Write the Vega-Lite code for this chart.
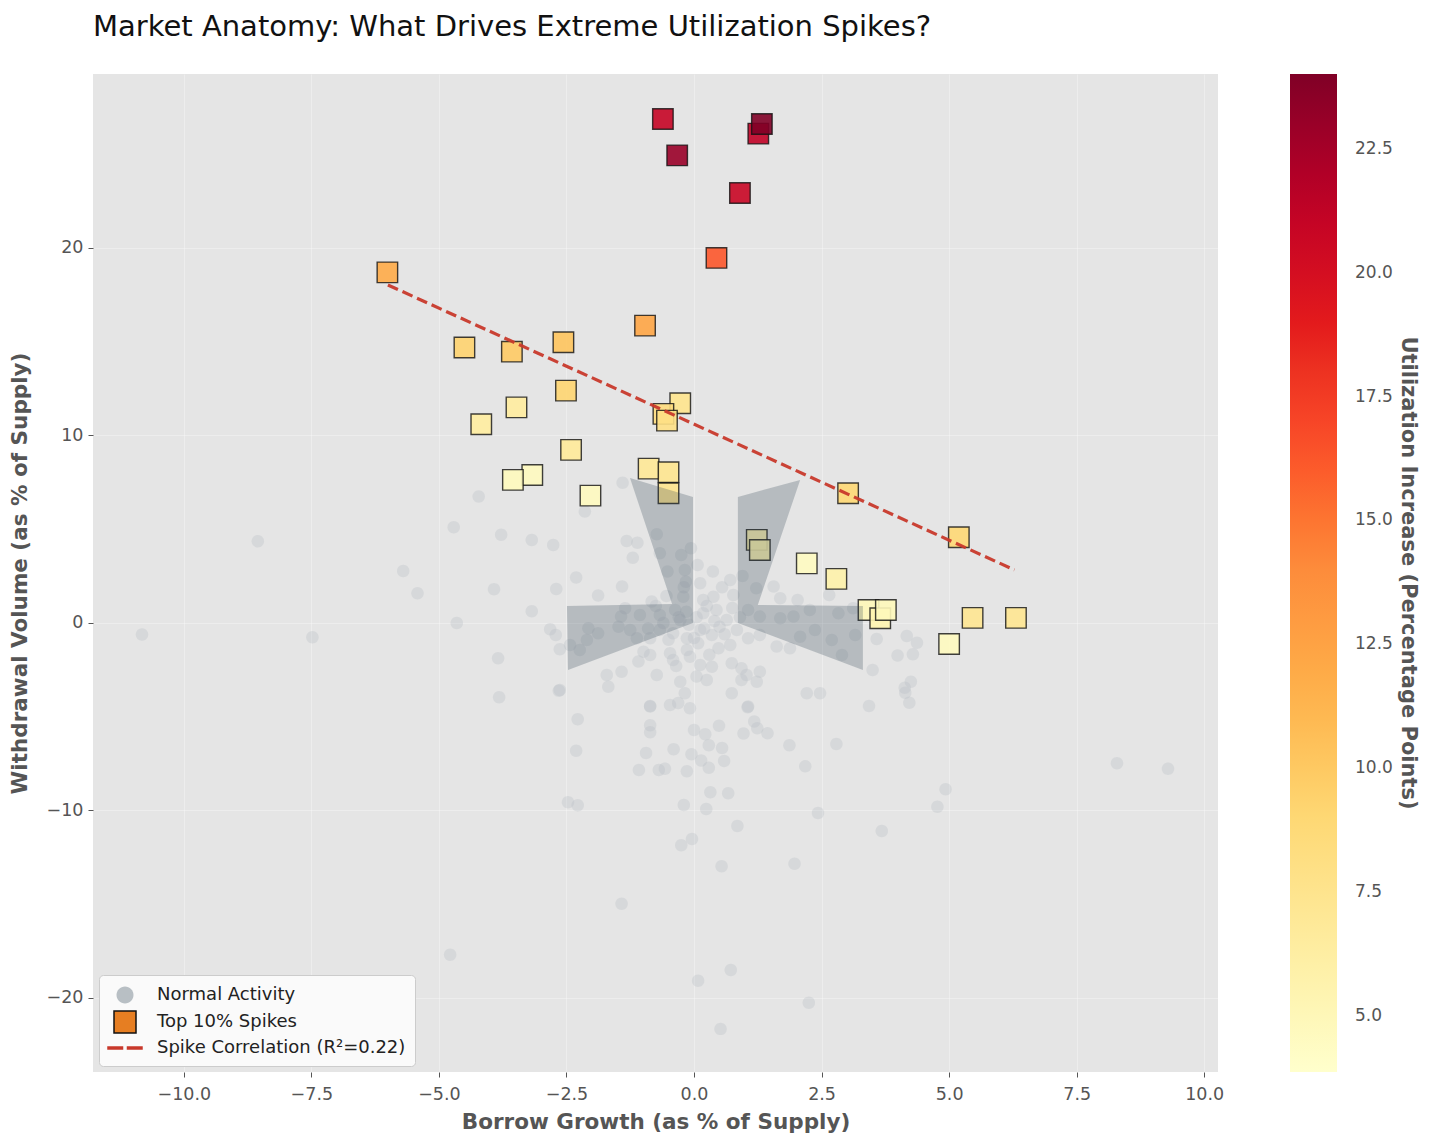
{
  "$schema": "https://vega.github.io/schema/vega-lite/v6.json",
  "autosize": {"type": "none"},
  "width": 1125,
  "height": 998,
  "padding": {"left": 93, "top": 74, "right": 214, "bottom": 72},
  "background": "white",
  "title": {"text": "Market Anatomy: What Drives Extreme Utilization Spikes?", "anchor": "start", "frame": "group", "fontSize": 29, "fontWeight": "normal", "font": "DejaVu Sans", "color": "#111", "offset": 32},
  "datasets": {
    "normal": [
      {"x": -4.22, "y": 6.74}, {"x": -4.71, "y": 5.10}, {"x": -3.78, "y": 4.71}, {"x": -3.18, "y": 4.43}, {"x": -2.76, "y": 4.16},
      {"x": -8.55, "y": 4.36}, {"x": -5.70, "y": 2.77}, {"x": -5.42, "y": 1.58}, {"x": -3.92, "y": 1.80}, {"x": -2.70, "y": 1.81},
      {"x": -3.18, "y": 0.62}, {"x": -4.65, "y": 0.0}, {"x": -10.82, "y": -0.62}, {"x": -7.48, "y": -0.76}, {"x": -2.82, "y": -0.34},
      {"x": -2.71, "y": -0.64}, {"x": -2.63, "y": -1.40}, {"x": -3.84, "y": -1.88}, {"x": -2.65, "y": -3.61}, {"x": -3.82, "y": -3.96},
      {"x": -2.47, "y": -9.56}, {"x": -2.28, "y": -9.72}, {"x": -1.42, "y": -14.97}, {"x": -4.78, "y": -17.7},
      {"x": -0.86, "y": -4.43}, {"x": -0.47, "y": -4.37}, {"x": -0.31, "y": -4.27}, {"x": -0.08, "y": -4.55}, {"x": 1.05, "y": -4.5},
      {"x": 3.43, "y": -4.43}, {"x": -2.28, "y": -5.14}, {"x": -0.86, "y": -5.46}, {"x": -0.86, "y": -5.83}, {"x": 0.0, "y": -5.71},
      {"x": 0.22, "y": -5.94}, {"x": 0.49, "y": -5.48}, {"x": 1.18, "y": -5.26}, {"x": 1.24, "y": -5.62}, {"x": 0.97, "y": -5.9},
      {"x": 1.44, "y": -5.88}, {"x": -2.31, "y": -6.81}, {"x": -0.94, "y": -6.93}, {"x": -0.40, "y": -6.74}, {"x": -0.05, "y": -7.0},
      {"x": 0.29, "y": -6.52}, {"x": 0.55, "y": -6.67}, {"x": 1.87, "y": -6.52}, {"x": 2.79, "y": -6.45}, {"x": 0.14, "y": -7.34},
      {"x": 0.59, "y": -7.36}, {"x": 0.29, "y": -7.72}, {"x": -1.08, "y": -7.84}, {"x": -0.69, "y": -7.84}, {"x": -0.57, "y": -7.77},
      {"x": -0.14, "y": -7.91}, {"x": 2.18, "y": -7.64}, {"x": 0.32, "y": -9.03}, {"x": 0.67, "y": -9.08}, {"x": -0.2, "y": -9.71},
      {"x": 0.24, "y": -9.92}, {"x": 2.43, "y": -10.13}, {"x": 0.85, "y": -10.83}, {"x": 3.68, "y": -11.1}, {"x": -0.04, "y": -11.52},
      {"x": -0.25, "y": -11.86}, {"x": 0.54, "y": -12.98}, {"x": 1.97, "y": -12.84}, {"x": 0.72, "y": -18.51}, {"x": 0.08, "y": -19.08},
      {"x": 2.25, "y": -20.25}, {"x": 0.52, "y": -21.65},
      {"x": 3.58, "y": -0.85}, {"x": 4.17, "y": -0.69}, {"x": 4.37, "y": -1.05}, {"x": 3.99, "y": -1.74}, {"x": 4.29, "y": -1.67},
      {"x": 3.50, "y": -2.51}, {"x": 4.25, "y": -3.13}, {"x": 4.13, "y": -3.45}, {"x": 4.14, "y": -3.72}, {"x": 4.22, "y": -4.25},
      {"x": 8.29, "y": -7.48}, {"x": 9.29, "y": -7.77}, {"x": 4.93, "y": -8.87}, {"x": 4.77, "y": -9.8},
      {"x": 2.21, "y": -3.75}, {"x": 2.47, "y": -3.75}, {"x": -1.4, "y": 7.48}, {"x": -2.14, "y": 5.94},
      {"x": -0.73, "y": 4.73}, {"x": -1.32, "y": 4.37}, {"x": -1.11, "y": 4.28}, {"x": -1.2, "y": 3.48}, {"x": -0.25, "y": 3.63},
      {"x": -0.06, "y": 3.98}, {"x": -0.67, "y": 3.72}, {"x": -2.31, "y": 2.42}, {"x": -1.41, "y": 1.94}, {"x": -1.88, "y": 1.46},
      {"x": -0.52, "y": 2.74}, {"x": -0.18, "y": 2.83}, {"x": -0.16, "y": 2.2}, {"x": 0.07, "y": 3.09}, {"x": 0.37, "y": 2.74},
      {"x": 0.12, "y": 2.12}, {"x": 0.71, "y": 2.29}, {"x": 0.95, "y": 2.51}, {"x": 1.22, "y": 1.85}, {"x": 1.56, "y": 1.94},
      {"x": 0.77, "y": 1.49}, {"x": 1.69, "y": 1.32}, {"x": 2.03, "y": 1.23}, {"x": 2.65, "y": 1.49}, {"x": 0.38, "y": 1.40},
      {"x": 0.18, "y": 1.23}, {"x": -0.21, "y": 1.40}, {"x": -0.54, "y": 1.44}, {"x": -0.83, "y": 1.14}, {"x": -1.35, "y": 0.78},
      {"x": -1.43, "y": 0.34}, {"x": -1.06, "y": 0.43}, {"x": -0.67, "y": 0.43}, {"x": -0.37, "y": 0.69}, {"x": -0.27, "y": 0.16},
      {"x": 0.18, "y": 0.52}, {"x": 0.44, "y": 0.69}, {"x": 0.64, "y": 0.16}, {"x": 1.06, "y": 0.69}, {"x": 1.29, "y": 0.34},
      {"x": 1.69, "y": 0.25}, {"x": 1.95, "y": 0.34}, {"x": 2.27, "y": 0.69}, {"x": 2.83, "y": 0.52}, {"x": 3.12, "y": 0.78},
      {"x": 3.16, "y": -0.64}, {"x": 2.9, "y": -1.71}, {"x": 2.7, "y": -0.91}, {"x": 2.37, "y": -0.37}, {"x": 2.08, "y": -0.73},
      {"x": 1.88, "y": -1.35}, {"x": 1.62, "y": -1.26}, {"x": 1.29, "y": -0.64}, {"x": 1.06, "y": -0.82}, {"x": 0.84, "y": -0.37},
      {"x": 0.71, "y": -1.17}, {"x": 0.48, "y": -1.35}, {"x": 0.35, "y": -0.64}, {"x": 0.12, "y": -0.37}, {"x": 0.08, "y": -1.08},
      {"x": -0.14, "y": -0.82}, {"x": -0.41, "y": -0.55}, {"x": -0.67, "y": -0.37}, {"x": -0.86, "y": -0.82}, {"x": -1.12, "y": -0.82},
      {"x": -1.25, "y": -0.37}, {"x": -1.48, "y": -0.2}, {"x": -1.88, "y": -0.55}, {"x": -2.1, "y": -0.91}, {"x": -2.24, "y": -1.44},
      {"x": -2.43, "y": -1.17}, {"x": -2.07, "y": -0.28}, {"x": -0.99, "y": -1.53}, {"x": -0.47, "y": -1.62}, {"x": -0.14, "y": -1.44},
      {"x": -0.86, "y": -1.71}, {"x": -1.09, "y": -2.06}, {"x": -1.42, "y": -2.6}, {"x": -1.71, "y": -2.77}, {"x": -1.68, "y": -3.4},
      {"x": -0.73, "y": -2.77}, {"x": -0.41, "y": -1.97}, {"x": -0.08, "y": -1.8}, {"x": 0.12, "y": -2.24}, {"x": 0.35, "y": -2.33},
      {"x": 0.05, "y": -2.86}, {"x": 0.25, "y": -3.04}, {"x": -0.27, "y": -3.13}, {"x": 0.74, "y": -2.15}, {"x": 0.93, "y": -2.42},
      {"x": 1.29, "y": -2.6}, {"x": 1.03, "y": -2.77}, {"x": 0.93, "y": -3.04}, {"x": 1.23, "y": -3.13}, {"x": 0.74, "y": -3.75},
      {"x": 1.06, "y": -4.46}, {"x": -0.18, "y": -3.75}, {"x": -0.86, "y": -4.46}, {"x": -2.63, "y": -3.57},
      {"x": 0.05, "y": 0.3}, {"x": 0.2, "y": -0.3}, {"x": -0.1, "y": -0.1}, {"x": 0.4, "y": 0.1}, {"x": -0.3, "y": 0.3},
      {"x": 0.25, "y": 0.9}, {"x": -0.5, "y": -0.9}, {"x": 0.6, "y": -0.6}, {"x": -0.15, "y": 0.6}, {"x": 0.5, "y": -0.2},
      {"x": -0.6, "y": 0.0}, {"x": 0.9, "y": 0.3}, {"x": -0.9, "y": -0.3}, {"x": 0.3, "y": -1.7}, {"x": -0.35, "y": -2.3},
      {"x": 0.55, "y": 1.9}, {"x": -0.2, "y": 1.9}, {"x": 0.0, "y": -0.8}, {"x": 0.75, "y": 0.8}, {"x": -0.75, "y": 0.9}
    ],
    "spikes": [
      {"x": -0.61, "y": 26.88, "u": 21.0}, {"x": -0.33, "y": 24.94, "u": 23.0}, {"x": 1.26, "y": 26.1, "u": 21.3},
      {"x": 1.33, "y": 26.61, "u": 24.0}, {"x": 0.9, "y": 22.93, "u": 20.8}, {"x": 0.44, "y": 19.47, "u": 16.2},
      {"x": -6.01, "y": 18.7, "u": 11.9}, {"x": -0.96, "y": 15.86, "u": 12.3}, {"x": -4.5, "y": 14.69, "u": 9.3},
      {"x": -3.57, "y": 14.47, "u": 9.9}, {"x": -2.56, "y": 14.97, "u": 10.3}, {"x": -2.51, "y": 12.39, "u": 9.2},
      {"x": -3.48, "y": 11.5, "u": 6.5}, {"x": -4.17, "y": 10.6, "u": 6.4}, {"x": -0.27, "y": 11.72, "u": 7.5},
      {"x": -0.6, "y": 11.15, "u": 8.5}, {"x": -0.53, "y": 10.79, "u": 8.0}, {"x": -2.41, "y": 9.23, "u": 6.8},
      {"x": -3.17, "y": 7.89, "u": 4.6}, {"x": -3.55, "y": 7.63, "u": 4.8}, {"x": -2.03, "y": 6.79, "u": 4.6},
      {"x": -0.89, "y": 8.23, "u": 7.0}, {"x": -0.5, "y": 8.04, "u": 7.4}, {"x": -0.5, "y": 6.92, "u": 7.5},
      {"x": 3.02, "y": 6.92, "u": 9.0}, {"x": 5.19, "y": 4.57, "u": 9.0}, {"x": 1.23, "y": 4.43, "u": 5.6},
      {"x": 1.29, "y": 3.89, "u": 5.5}, {"x": 2.21, "y": 3.18, "u": 4.5}, {"x": 2.79, "y": 2.35, "u": 5.8},
      {"x": 3.42, "y": 0.69, "u": 5.0}, {"x": 3.65, "y": 0.25, "u": 5.5}, {"x": 3.76, "y": 0.69, "u": 4.9},
      {"x": 5.46, "y": 0.27, "u": 7.3}, {"x": 6.31, "y": 0.27, "u": 7.3}, {"x": 5.0, "y": -1.12, "u": 4.6}
    ],
    "trend": [{"x": -6.0, "y": 18.03}, {"x": 6.28, "y": 2.83}],
    "shapes": [
      {"g": "a", "i": 1, "x": -1.255, "y": 7.73}, {"g": "a", "i": 2, "x": -0.02, "y": 6.72}, {"g": "a", "i": 3, "x": -0.02, "y": 0.0},
      {"g": "a", "i": 4, "x": -2.47, "y": -2.51}, {"g": "a", "i": 5, "x": -2.49, "y": 0.91}, {"g": "a", "i": 6, "x": -0.43, "y": 1.01},
      {"g": "b", "i": 1, "x": 2.08, "y": 7.63}, {"g": "b", "i": 2, "x": 0.86, "y": 6.72}, {"g": "b", "i": 3, "x": 0.86, "y": 0.0},
      {"g": "b", "i": 4, "x": 3.31, "y": -2.51}, {"g": "b", "i": 5, "x": 3.31, "y": 0.91}, {"g": "b", "i": 6, "x": 1.25, "y": 0.96}
    ]
  },
  "layer": [
    {"mark": {"type": "rule", "color": "#777", "strokeWidth": 1.5, "opacity": 0.8}, "encoding": {"x": {"datum": 0, "type": "quantitative"}}},
    {"mark": {"type": "rule", "color": "#777", "strokeWidth": 1.5, "opacity": 0.8}, "encoding": {"y": {"datum": 0, "type": "quantitative"}}},
    {
      "data": {"name": "normal"},
      "mark": {"type": "point", "filled": true, "opacity": 0.32, "size": 216, "strokeWidth": 0},
      "encoding": {
        "x": {"field": "x", "type": "quantitative"},
        "y": {"field": "y", "type": "quantitative"},
        "color": {"datum": "Normal Activity", "type": "nominal",
          "scale": {"domain": ["Normal Activity", "Top 10% Spikes", "Spike Correlation (R²=0.22)"], "range": ["#b8bfc4", "#e67e22", "#c8392b"]},
          "legend": {"title": null, "orient": "bottom-left", "offset": 6, "fillColor": "#fafafa", "strokeColor": "#cccccc", "cornerRadius": 4, "padding": 9,
            "labelFontSize": 18, "labelFont": "DejaVu Sans", "labelColor": "#222", "labelLimit": 500, "symbolSize": 400, "rowPadding": 1, "labelOffset": 21,
            "symbolOffset": 6, "symbolOpacity": 1, "symbolStrokeWidth": 1.5}
        },
        "stroke": {"datum": "Normal Activity", "type": "nominal",
          "scale": {"domain": ["Normal Activity", "Top 10% Spikes", "Spike Correlation (R²=0.22)"], "range": ["transparent", "#111111", "#c8392b"]},
          "legend": {"title": null, "orient": "bottom-left", "offset": 6, "fillColor": "#fafafa", "strokeColor": "#cccccc", "cornerRadius": 4, "padding": 9,
            "labelFontSize": 18, "labelFont": "DejaVu Sans", "labelColor": "#222", "labelLimit": 500, "symbolSize": 400, "rowPadding": 1, "labelOffset": 21,
            "symbolOffset": 6, "symbolOpacity": 1, "symbolStrokeWidth": 1.5}
        },
        "shape": {"datum": "Normal Activity", "type": "nominal",
          "scale": {"domain": ["Normal Activity", "Top 10% Spikes", "Spike Correlation (R²=0.22)"],
            "range": ["M0.85,0A0.85,0.85,0,1,1,-0.85,0A0.85,0.85,0,1,1,0.85,0Z", "M-1.1,-1.1H1.1V1.1H-1.1Z", "M-1.7,-0.09H-0.25V0.09H-1.7Z M0.25,-0.09H1.7V0.09H0.25Z"]},
          "legend": {"title": null, "orient": "bottom-left", "offset": 6, "fillColor": "#fafafa", "strokeColor": "#cccccc", "cornerRadius": 4, "padding": 9,
            "labelFontSize": 18, "labelFont": "DejaVu Sans", "labelColor": "#222", "labelLimit": 500, "symbolSize": 400, "rowPadding": 1, "labelOffset": 21,
            "symbolOffset": 6, "symbolOpacity": 1, "symbolStrokeWidth": 1.5}
        }
      }
    },
    {
      "data": {"name": "spikes"},
      "mark": {"type": "point", "filled": true, "size": 347, "strokeWidth": 1.4, "fillOpacity": 0.9, "strokeOpacity": 0.8},
      "encoding": {
        "x": {"field": "x", "type": "quantitative"},
        "y": {"field": "y", "type": "quantitative"},
        "shape": {"datum": "Top 10% Spikes", "type": "nominal"},
        "stroke": {"datum": "Top 10% Spikes", "type": "nominal"},
        "fill": {"field": "u", "type": "quantitative", "title": "Utilization Increase (Percentage Points)",
          "scale": {"domain": [3.87, 6.3875, 8.905, 11.4225, 13.94, 16.4575, 18.975, 21.4925, 24.01],
            "range": ["#ffffcc", "#ffeda0", "#fed976", "#feb24c", "#fd8d3c", "#fc4e2a", "#e31a1c", "#bd0026", "#800026"], "nice": false, "zero": false},
          "legend": {"orient": "none", "legendX": 1197, "legendY": 0, "direction": "vertical", "gradientLength": 998, "gradientThickness": 47,
            "gradientStrokeWidth": 0, "values": [5, 7.5, 10, 12.5, 15, 17.5, 20, 22.5], "format": ".1f", "labelFontSize": 17, "labelColor": "#555",
            "labelFont": "DejaVu Sans", "labelOffset": 18, "labelOverlap": false, "titleOrient": "right", "titleAngle": 270, "titleAnchor": "middle",
            "titleFontSize": 21, "titleFont": "DejaVu Sans", "titleFontWeight": "bold", "titleColor": "#555", "titlePadding": 5, "titleLimit": 900, "padding": 0}
        }
      }
    },
    {
      "data": {"name": "trend"},
      "mark": {"type": "line", "strokeWidth": 3.2, "strokeDash": [11, 5], "opacity": 0.95},
      "encoding": {
        "x": {"field": "x", "type": "quantitative"},
        "y": {"field": "y", "type": "quantitative"},
        "stroke": {"datum": "Spike Correlation (R²=0.22)", "type": "nominal"}
      }
    },
    {
      "data": {"name": "shapes"},
      "mark": {"type": "line", "fill": "#2c3e50", "fillOpacity": 0.25, "stroke": "#2c3e50", "strokeOpacity": 0, "strokeWidth": 0},
      "encoding": {
        "x": {"field": "x", "type": "quantitative"},
        "y": {"field": "y", "type": "quantitative"},
        "detail": {"field": "g", "type": "nominal"},
        "order": {"field": "i", "type": "quantitative"}
      }
    }
  ],
  "resolve": {"scale": {"shape": "shared", "color": "shared", "stroke": "shared"}},
  "encoding": {
    "x": {"type": "quantitative", "title": "Borrow Growth (as % of Supply)",
      "scale": {"domain": [-11.78, 10.27], "nice": false, "zero": false},
      "axis": {"values": [-10, -7.5, -5, -2.5, 0, 2.5, 5, 7.5, 10], "format": ".1f", "titlePadding": 9, "labelPadding": 8}},
    "y": {"type": "quantitative", "title": "Withdrawal Volume (as % of Supply)",
      "scale": {"domain": [-23.95, 29.28], "nice": false, "zero": false},
      "axis": {"values": [-20, -10, 0, 10, 20], "format": "d", "titlePadding": 15, "labelPadding": 5}}
  },
  "config": {
    "font": "DejaVu Sans",
    "view": {"fill": "#e5e5e5", "stroke": null},
    "axis": {"grid": true, "gridColor": "#ffffff", "gridOpacity": 0.3, "gridWidth": 1, "domain": false,
      "tickColor": "#555", "tickSize": 5, "tickWidth": 1, "labelColor": "#555", "labelFontSize": 17.5, "labelFont": "DejaVu Sans",
      "titleColor": "#555", "titleFontSize": 21.5, "titleFont": "DejaVu Sans", "titleFontWeight": "bold"}
  }
}
